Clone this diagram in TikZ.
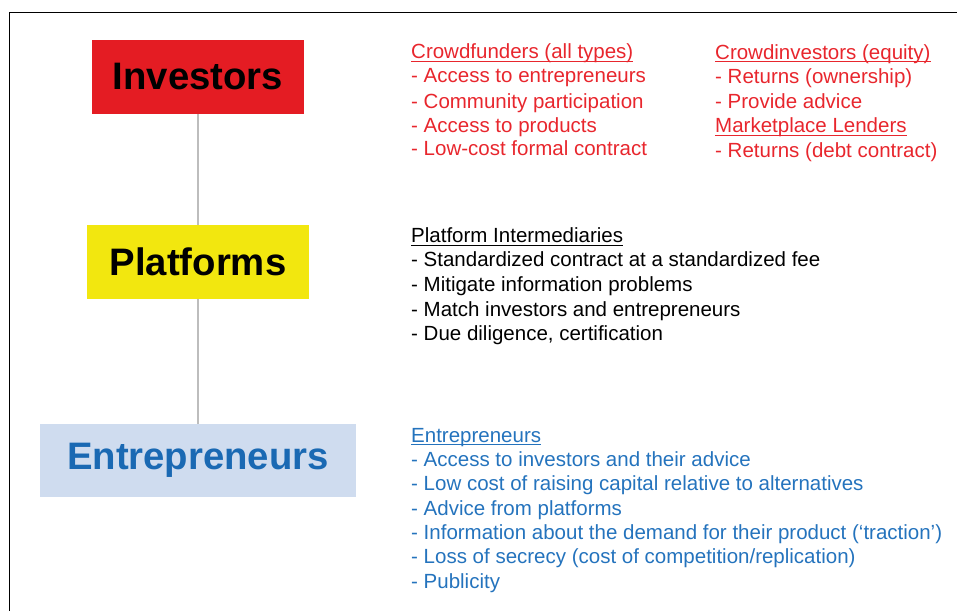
\documentclass[tikz,border=0pt]{standalone}
\usepackage{fontspec}
\setmainfont{Liberation Sans}
\definecolor{boxred}{HTML}{E41C23}
\definecolor{boxyellow}{HTML}{F2E70F}
\definecolor{boxblue}{HTML}{CFDCEF}
\definecolor{txtred}{HTML}{E8262D}
\definecolor{txtblue}{HTML}{2473BD}
\definecolor{titleblue}{HTML}{1A69B3}
\definecolor{linegray}{HTML}{BDBDBD}
\newcommand\myul[1]{\setbox0\hbox{#1}\rlap{\rule[-2.6bp]{\wd0}{0.9bp}}\box0}
\tikzset{
  bigbox/.style={inner sep=0pt, font=\fontsize{38.3bp}{40bp}\selectfont\bfseries, minimum height=74bp},
  line/.style={anchor=base west, inner sep=0pt, font=\fontsize{20.5bp}{24bp}\selectfont},
  conn/.style={draw=linegray, line width=1.4bp}
}
\begin{document}
\begin{tikzpicture}[x=1bp,y=-1bp]
\useasboundingbox (0,0) rectangle (957,611);
\coordinate (tl) at (9.5,12.5);
\coordinate (tr) at (957,12.5);
\coordinate (bl) at (9.5,611);
\draw[line width=1.3bp, black] (tr) -- (tl) -- (bl);

\node[bigbox, fill=boxred, text=black, minimum width=212bp] (inv) at (198,77) {Investors};
\node[bigbox, fill=boxyellow, text=black, minimum width=222bp] (plat) at (198,262) {Platforms};
\node[bigbox, fill=boxblue, text=titleblue, minimum width=316bp, minimum height=73bp] (ent) at (198,460.5) {Entrepreneurs};

\draw[conn] (inv.south) -- (plat.north);
\draw[conn] (plat.south) -- (ent.north);

% Investors, left column
\node[line, text=txtred] (r1) at (411,59) {\myul{Crowdfunders (all types)}};
\node[line, text=txtred] (r2) at (411,82.7) {- Access to entrepreneurs};
\node[line, text=txtred] (r3) at (411,108.5) {- Community participation};
\node[line, text=txtred] (r4) at (411,132.5) {- Access to products};
\node[line, text=txtred] (r5) at (411,155.5) {- Low-cost formal contract};
% Investors, right column
\node[line, text=txtred] (s1) at (715,59.5) {\myul{Crowdinvestors (equity)}};
\node[line, text=txtred] (s2) at (715,83.5) {- Returns (ownership)};
\node[line, text=txtred] (s3) at (715,108.5) {- Provide advice};
\node[line, text=txtred] (s4) at (715,133) {\myul{Marketplace Lenders}};
\node[line, text=txtred] (s5) at (715,157.5) {- Returns (debt contract)};

% Platforms
\node[line, text=black] (p1) at (411,243) {\myul{Platform Intermediaries}};
\node[line, text=black] (p2) at (411,267) {- Standardized contract at a standardized fee};
\node[line, text=black] (p3) at (411,291.5) {- Mitigate information problems};
\node[line, text=black] (p4) at (411,316) {- Match investors and entrepreneurs};
\node[line, text=black] (p5) at (411,340) {- Due diligence, certification};

% Entrepreneurs
\node[line, text=txtblue] (e1) at (411,442.5) {\myul{Entrepreneurs}};
\node[line, text=txtblue] (e2) at (411,466.5) {- Access to investors and their advice};
\node[line, text=txtblue] (e3) at (411,490.8) {- Low cost of raising capital relative to alternatives};
\node[line, text=txtblue] (e4) at (411,515.1) {- Advice from platforms};
\node[line, text=txtblue] (e5) at (411,539.5) {- Information about the demand for their product (‘traction’)};
\node[line, text=txtblue] (e6) at (411,563.9) {- Loss of secrecy (cost of competition/replication)};
\node[line, text=txtblue] (e7) at (411,588.8) {- Publicity};
\end{tikzpicture}
\end{document}
